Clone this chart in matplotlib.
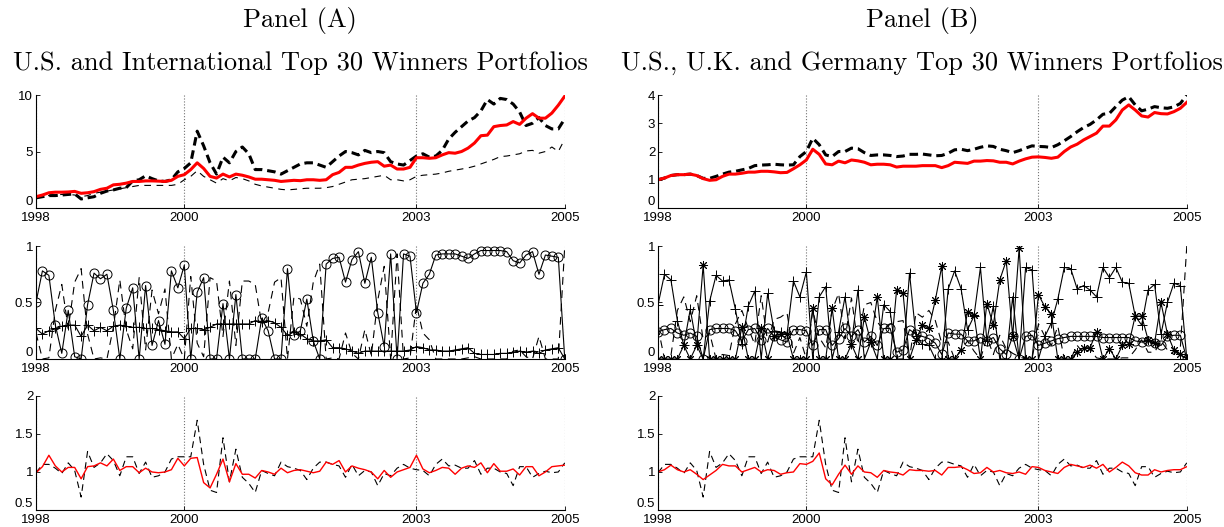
import numpy as np
import matplotlib
matplotlib.use("Agg")
import matplotlib.pyplot as plt
from matplotlib.ticker import FormatStrFormatter

plt.rcParams['font.family'] = ['Liberation Sans', 'DejaVu Sans']

# monthly observations, 1998 -> 2005
tick_pos = [0, 23, 59, 82]
tick_lab = ['1998', '2000', '2003', '2005']

# ---- Panel A, cumulative wealth ----
a_top_red = [1.0, 1.15, 1.35, 1.4, 1.4, 1.42, 1.47, 1.3, 1.35, 1.45, 1.65, 1.75, 2.05, 2.1, 2.2, 2.35,
             2.35, 2.4, 2.4, 2.38, 2.35, 2.45, 2.8, 2.95, 3.4, 4.0, 3.5, 2.8, 2.65, 3.0, 2.75, 3.0,
             2.9, 2.75, 2.55, 2.55, 2.5, 2.45, 2.35, 2.4, 2.45, 2.42, 2.5, 2.5, 2.45, 2.5, 2.95, 3.15,
             3.6, 3.6, 3.8, 3.95, 4.05, 4.1, 3.7, 3.8, 3.45, 3.45, 3.6, 4.45, 4.45, 4.4, 4.45, 4.7,
             4.9, 4.85, 5.0, 5.3, 5.75, 6.4, 6.45, 7.2, 7.3, 7.35, 7.65, 7.4, 7.95, 8.35, 7.95, 7.95,
             8.4, 9.1, 9.9]
a_top_dash = [0.9, 1.0, 1.1, 1.1, 1.15, 1.2, 1.25, 0.8, 0.9, 1.0, 1.3, 1.5, 1.6, 1.75, 1.8, 2.4,
              2.5, 2.85, 2.6, 2.4, 2.35, 2.5, 3.2, 3.5, 4.0, 6.8, 5.5, 4.0, 3.0, 4.5, 4.0, 5.0,
              5.4, 4.8, 3.4, 3.4, 3.3, 3.2, 3.0, 3.3, 3.6, 3.9, 4.0, 4.0, 3.8, 3.6, 4.1, 4.6,
              5.0, 4.9, 4.7, 5.1, 4.9, 5.0, 4.9, 4.1, 3.9, 3.8, 4.2, 4.6, 4.8, 4.5, 4.6, 5.1,
              6.1, 6.7, 7.2, 7.7, 8.0, 8.6, 9.6, 9.2, 9.7, 9.6, 9.2, 8.5, 7.3, 7.5, 8.0, 7.3,
              7.0, 7.0, 7.9]
a_top_thin = [0.9, 1.0, 1.1, 1.15, 1.2, 1.2, 1.15, 1.0, 1.1, 1.3, 1.4, 1.5, 1.6, 1.7, 1.8, 1.9,
              2.0, 2.0, 2.0, 2.0, 2.0, 2.0, 2.1, 2.5, 2.8, 3.3, 2.8, 2.5, 2.2, 2.6, 2.4, 2.7,
              2.6, 2.4, 2.1, 1.95, 1.85, 1.75, 1.65, 1.6, 1.65, 1.7, 1.75, 1.75, 1.75, 1.8, 1.9, 2.1,
              2.3, 2.5, 2.55, 2.6, 2.7, 2.8, 2.9, 2.5, 2.5, 2.4, 2.5, 2.8, 2.9, 2.95, 3.0, 3.1,
              3.25, 3.35, 3.45, 3.55, 3.7, 3.9, 4.1, 4.3, 4.55, 4.6, 4.7, 4.8, 5.05, 5.1, 4.85, 5.0,
              5.4, 5.0, 6.1]

# ---- Panel A, portfolio weights ----
a_w_us = [0.5, 0.78, 0.74, 0.30, 0.05, 0.43, 0.02, 0.0, 0.48, 0.76, 0.71, 0.75, 0.43, 0.0, 0.45, 0.63,
          0.0, 0.65, 0.12, 0.34, 0.13, 0.78, 0.63, 0.83, 0.0, 0.59, 0.72, 0.0, 0.0, 0.49, 0.0, 0.57,
          0.0, 0.0, 0.0, 0.36, 0.25, 0.0, 0.0, 0.80, 0.21, 0.25, 0.53, 0.16, 0.0, 0.84, 0.89, 0.90,
          0.68, 0.88, 0.95, 0.67, 0.90, 0.41, 0.11, 0.93, 0.0, 0.93, 0.91, 0.41, 0.67, 0.75, 0.92, 0.93,
          0.93, 0.93, 0.91, 0.89, 0.93, 0.96, 0.96, 0.96, 0.96, 0.95, 0.87, 0.85, 0.92, 0.95, 0.75, 0.92,
          0.91, 0.90, 0.0]
a_w_plus = [0.27, 0.22, 0.25, 0.27, 0.29, 0.30, 0.30, 0.20, 0.30, 0.25, 0.28, 0.25, 0.29, 0.30, 0.29, 0.28,
            0.28, 0.27, 0.27, 0.26, 0.25, 0.24, 0.24, 0.18, 0.27, 0.27, 0.26, 0.28, 0.31, 0.31, 0.31, 0.31,
            0.31, 0.31, 0.34, 0.33, 0.34, 0.32, 0.28, 0.21, 0.24, 0.22, 0.18, 0.16, 0.16, 0.17, 0.10, 0.10,
            0.09, 0.07, 0.05, 0.07, 0.07, 0.07, 0.07, 0.07, 0.07, 0.07, 0.08, 0.11, 0.10, 0.08, 0.08, 0.07,
            0.07, 0.08, 0.09, 0.10, 0.05, 0.04, 0.04, 0.04, 0.05, 0.05, 0.06, 0.07, 0.06, 0.07, 0.05, 0.08,
            0.09, 0.10, 0.0]
a_w_rest = [0.23, 0.0, 0.01, 0.43, 0.66, 0.27, 0.68, 0.80, 0.22, 0.0, 0.01, 0.0, 0.28, 0.70, 0.26, 0.09,
            0.72, 0.08, 0.61, 0.40, 0.62, 0.0, 0.13, 0.0, 0.73, 0.14, 0.02, 0.72, 0.69, 0.20, 0.69, 0.12,
            0.69, 0.69, 0.66, 0.31, 0.41, 0.68, 0.72, 0.0, 0.55, 0.53, 0.29, 0.68, 0.84, 0.0, 0.01, 0.0,
            0.23, 0.05, 0.0, 0.26, 0.03, 0.52, 0.82, 0.0, 0.93, 0.0, 0.01, 0.48, 0.23, 0.17, 0.0, 0.0,
            0.0, 0.0, 0.0, 0.01, 0.02, 0.0, 0.0, 0.0, 0.0, 0.0, 0.07, 0.08, 0.02, 0.0, 0.20, 0.0,
            0.0, 0.0, 1.0]

# ---- Panel A / B, monthly gross returns ----
a_ret_red = [0.99, 1.07, 1.22, 1.08, 1.0, 1.06, 1.06, 0.91, 1.07, 1.08, 1.12, 1.08, 1.17, 1.02, 1.07, 1.07,
             0.99, 1.05, 1.0, 0.99, 1.0, 1.03, 1.18, 1.08, 1.18, 1.19, 0.86, 0.79, 0.97, 1.17, 0.87, 1.11,
             0.97, 0.97, 0.92, 1.02, 1.0, 0.97, 1.05, 0.99, 1.02, 1.03, 1.01, 0.99, 1.01, 1.13, 1.10, 1.15,
             1.0, 1.08, 1.05, 1.03, 1.0, 0.91, 1.02, 0.93, 1.0, 1.03, 1.06, 1.22, 1.04, 0.99, 1.02, 1.06,
             1.05, 0.97, 1.05, 1.08, 1.06, 1.12, 0.99, 1.11, 1.01, 1.01, 1.04, 0.96, 1.07, 1.07, 0.95, 1.0,
             1.07, 1.08, 1.09]
us_ret = [0.99, 1.10, 1.10, 1.05, 0.98, 1.12, 1.02, 0.67, 1.27, 1.06, 1.12, 1.24, 1.15, 0.95, 1.20, 1.20,
          0.98, 1.13, 0.93, 0.95, 1.0, 1.17, 1.20, 1.20, 1.20, 1.68, 1.10, 0.76, 0.73, 1.45, 0.87, 1.30,
          0.93, 0.85, 0.73, 1.02, 0.98, 0.95, 1.13, 1.07, 1.05, 1.02, 0.90, 1.05, 1.13, 1.13, 1.10, 1.08,
          0.93, 1.10, 0.95, 1.02, 1.0, 0.82, 0.98, 0.95, 1.05, 1.10, 1.05, 1.03, 1.02, 0.95, 1.10, 1.17,
          1.08, 1.09, 1.05, 1.05, 1.15, 0.97, 1.05, 1.05, 1.0, 0.98, 0.82, 1.07, 1.07, 0.93, 0.98, 1.01,
          0.99, 1.0, 1.12]

# ---- Panel B, cumulative wealth ----
b_top_red = [1.0, 1.06, 1.15, 1.18, 1.18, 1.2, 1.15, 1.04, 0.98, 1.0, 1.12, 1.2, 1.2, 1.23, 1.27, 1.27,
             1.3, 1.3, 1.28, 1.25, 1.26, 1.39, 1.53, 1.7, 2.08, 1.9, 1.56, 1.53, 1.66, 1.6, 1.7, 1.67,
             1.62, 1.53, 1.55, 1.55, 1.53, 1.45, 1.48, 1.48, 1.48, 1.5, 1.5, 1.5, 1.43, 1.5, 1.62, 1.6,
             1.58, 1.66, 1.66, 1.68, 1.67, 1.62, 1.62, 1.56, 1.66, 1.74, 1.8, 1.81, 1.79, 1.76, 1.8, 2.0,
             2.16, 2.26, 2.41, 2.53, 2.65, 2.9, 2.9, 3.12, 3.47, 3.65, 3.47, 3.26, 3.22, 3.38, 3.34, 3.33,
             3.41, 3.53, 3.74]
b_top_dash = [1.0, 1.06, 1.15, 1.18, 1.18, 1.2, 1.15, 1.05, 1.05, 1.12, 1.2, 1.27, 1.3, 1.35, 1.4, 1.5,
              1.52, 1.53, 1.55, 1.53, 1.52, 1.53, 1.82, 2.0, 2.47, 2.24, 1.88, 1.82, 2.0, 2.0, 2.12, 2.1,
              1.96, 1.86, 1.88, 1.88, 1.86, 1.82, 1.84, 1.9, 1.9, 1.91, 1.88, 1.85, 1.86, 1.94, 2.06, 2.08,
              2.03, 2.08, 2.15, 2.2, 2.18, 2.08, 2.03, 1.96, 2.03, 2.12, 2.2, 2.18, 2.17, 2.14, 2.24, 2.38,
              2.53, 2.7, 2.85, 2.96, 3.12, 3.32, 3.35, 3.59, 3.82, 3.94, 3.65, 3.44, 3.5, 3.59, 3.55, 3.53,
              3.58, 3.7, 4.0]

# ---- Panel B, portfolio weights ----
b_w_plus = [0.48, 0.75, 0.70, 0.34, 0.12, 0.44, 0.12, 0.0, 0.51, 0.74, 0.69, 0.70, 0.44, 0.13, 0.47, 0.60,
            0.0, 0.58, 0.25, 0.24, 0.22, 0.69, 0.55, 0.77, 0.0, 0.55, 0.64, 0.0, 0.24, 0.55, 0.13, 0.61,
            0.0, 0.15, 0.0, 0.48, 0.42, 0.0, 0.0, 0.76, 0.20, 0.13, 0.12, 0.0, 0.0, 0.62, 0.78, 0.62,
            0.26, 0.38, 0.81, 0.16, 0.47, 0.0, 0.0, 0.55, 0.0, 0.81, 0.79, 0.0, 0.20, 0.32, 0.53, 0.81,
            0.80, 0.62, 0.65, 0.61, 0.55, 0.81, 0.72, 0.81, 0.68, 0.67, 0.38, 0.30, 0.61, 0.66, 0.22, 0.50,
            0.67, 0.65, 0.0]
b_w_star = [0.0, 0.0, 0.0, 0.0, 0.12, 0.0, 0.12, 0.83, 0.0, 0.0, 0.0, 0.0, 0.0, 0.28, 0.0, 0.0,
            0.27, 0.0, 0.20, 0.22, 0.22, 0.0, 0.0, 0.0, 0.45, 0.0, 0.0, 0.45, 0.0, 0.0, 0.13, 0.0,
            0.37, 0.15, 0.55, 0.0, 0.0, 0.61, 0.58, 0.0, 0.17, 0.30, 0.27, 0.52, 0.82, 0.0, 0.0, 0.08,
            0.42, 0.39, 0.0, 0.49, 0.30, 0.70, 0.87, 0.20, 0.98, 0.0, 0.0, 0.57, 0.46, 0.40, 0.0, 0.0,
            0.0, 0.06, 0.10, 0.10, 0.24, 0.0, 0.09, 0.0, 0.12, 0.13, 0.38, 0.38, 0.17, 0.14, 0.50, 0.22,
            0.08, 0.04, 0.0]
b_w_circ = [0.24, 0.26, 0.27, 0.23, 0.21, 0.23, 0.20, 0.0, 0.26, 0.27, 0.27, 0.27, 0.25, 0.16, 0.26, 0.27,
            0.17, 0.27, 0.20, 0.17, 0.15, 0.26, 0.26, 0.25, 0.12, 0.26, 0.26, 0.12, 0.18, 0.27, 0.20, 0.26,
            0.15, 0.20, 0.12, 0.27, 0.27, 0.06, 0.08, 0.26, 0.22, 0.20, 0.18, 0.14, 0.04, 0.23, 0.22, 0.22,
            0.16, 0.16, 0.19, 0.16, 0.19, 0.09, 0.04, 0.20, 0.0, 0.20, 0.21, 0.12, 0.14, 0.16, 0.18, 0.19,
            0.20, 0.20, 0.20, 0.20, 0.20, 0.19, 0.19, 0.19, 0.19, 0.19, 0.16, 0.15, 0.16, 0.14, 0.12, 0.20,
            0.21, 0.21, 0.0]
b_w_rest = [0.28, 0.0, 0.03, 0.43, 0.55, 0.33, 0.56, 0.17, 0.23, 0.0, 0.04, 0.03, 0.31, 0.43, 0.27, 0.13,
            0.56, 0.15, 0.35, 0.37, 0.41, 0.05, 0.19, 0.0, 0.43, 0.19, 0.10, 0.43, 0.58, 0.18, 0.54, 0.13,
            0.48, 0.50, 0.33, 0.25, 0.31, 0.33, 0.34, 0.0, 0.41, 0.37, 0.43, 0.34, 0.14, 0.15, 0.0, 0.08,
            0.16, 0.07, 0.0, 0.19, 0.04, 0.21, 0.09, 0.05, 0.02, 0.0, 0.0, 0.31, 0.20, 0.12, 0.29, 0.0,
            0.0, 0.12, 0.05, 0.09, 0.01, 0.0, 0.0, 0.0, 0.01, 0.01, 0.08, 0.17, 0.06, 0.06, 0.16, 0.08,
            0.04, 0.10, 1.0]

b_ret_red = [1.0, 1.03, 1.09, 1.03, 1.0, 1.03, 0.97, 0.90, 0.96, 1.02, 1.10, 1.08, 1.08, 1.0, 1.03, 1.06,
             1.0, 1.03, 1.02, 0.97, 0.99, 1.0, 1.11, 1.10, 1.14, 1.25, 0.91, 0.83, 0.97, 1.09, 0.97, 1.08,
             1.0, 0.99, 0.93, 1.02, 1.0, 0.99, 0.96, 1.03, 1.02, 1.02, 1.01, 1.02, 0.96, 1.06, 1.06, 1.07,
             1.03, 0.98, 0.99, 1.06, 1.0, 1.02, 0.99, 0.98, 1.0, 0.97, 1.07, 1.06, 1.02, 1.0, 0.98, 1.06,
             1.10, 1.08, 1.06, 1.09, 1.05, 1.10, 1.0, 1.06, 1.13, 1.08, 0.99, 0.96, 0.96, 1.03, 1.0, 1.02,
             1.03, 1.03, 1.07]

x = np.arange(len(a_top_red))

fig = plt.figure(figsize=(12.24, 5.27), dpi=100)

col_x = [0.0294, 0.5376]
col_w = 0.432
rows = [(0.6053, 0.2144), (0.3188, 0.2144), (0.0323, 0.2163)]


def style(ax, ylim, yticks):
    ax.set_xlim(0, 82)
    ax.set_ylim(*ylim)
    ax.set_xticks(tick_pos)
    ax.set_xticklabels(tick_lab)
    ax.set_yticks(yticks)
    ax.yaxis.set_major_formatter(FormatStrFormatter('%g'))
    for s in ['top', 'right']:
        ax.spines[s].set_visible(False)
    ax.spines['left'].set_linewidth(0.8)
    ax.spines['bottom'].set_linewidth(0.8)
    ax.tick_params(direction='in', length=3, width=0.6, labelsize=9.5)
    ax.tick_params(axis='y', pad=2)
    ax.tick_params(axis='x', pad=3)
    ax.xaxis.grid(True, linestyle=':', color='0.45', linewidth=0.8)
    ax.set_axisbelow(True)
    # lift the lowest y label so it clears the year label underneath
    ax.yaxis.get_major_ticks()[0].label1.set_verticalalignment('bottom')


axes = [[fig.add_axes([cx, rb, col_w, rh]) for cx in col_x] for rb, rh in rows]

# top row: cumulative wealth
ax = axes[0][0]
ax.plot(x, a_top_thin, color='k', lw=0.8, dashes=(6, 5))
ax.plot(x, a_top_dash, color='k', lw=2.2, dashes=(2.8, 1.6))
ax.plot(x, a_top_red, color='r', lw=2.2)
style(ax, (0, 10), [0, 5, 10])

ax = axes[0][1]
ax.plot(x, b_top_dash, color='k', lw=2.2, dashes=(2.8, 1.6))
ax.plot(x, b_top_red, color='r', lw=2.2)
style(ax, (0, 4), [0, 1, 2, 3, 4])

# middle row: weights
mk = dict(color='k', lw=0.8, markerfacecolor='none', markeredgecolor='k', markeredgewidth=0.7)
ax = axes[1][0]
ax.plot(x, a_w_rest, color='k', lw=0.8, dashes=(7, 5))
ax.plot(x, a_w_us, marker='o', markersize=6.5, **mk)
ax.plot(x, a_w_plus, marker='+', markersize=6.5, **mk)
style(ax, (0, 1), [0, 0.5, 1])

ax = axes[1][1]
ax.plot(x, b_w_rest, color='k', lw=0.8, dashes=(7, 5))
ax.plot(x, b_w_circ, marker='o', markersize=6.5, **mk)
ax.plot(x, b_w_star, marker=(8, 2, 0), markersize=6.5, **mk)
ax.plot(x, b_w_plus, marker='+', markersize=7, **mk)
style(ax, (0, 1), [0, 0.5, 1])

# bottom row: gross monthly returns
for ax, red in [(axes[2][0], a_ret_red), (axes[2][1], b_ret_red)]:
    ax.plot(x, us_ret, color='k', lw=0.8, dashes=(6, 4))
    ax.plot(x, red, color='r', lw=1.0)
    style(ax, (0.5, 2), [0.5, 1, 1.5, 2])

# panel headings
heads = [("Panel (A)", "U.S. and International Top 30 Winners Portfolios"),
         ("Panel (B)", "U.S., U.K. and Germany Top 30 Winners Portfolios")]
for cx, (h1, h2) in zip(col_x, heads):
    xc = cx + col_w / 2
    fig.text(xc, 1 - 21 / 527, h1, ha='center', va='center', family='cmr10', fontsize=19)
    fig.text(xc, 1 - 63 / 527, h2, ha='center', va='center', family='cmr10', fontsize=19)

fig.savefig('out.png', dpi=100)
